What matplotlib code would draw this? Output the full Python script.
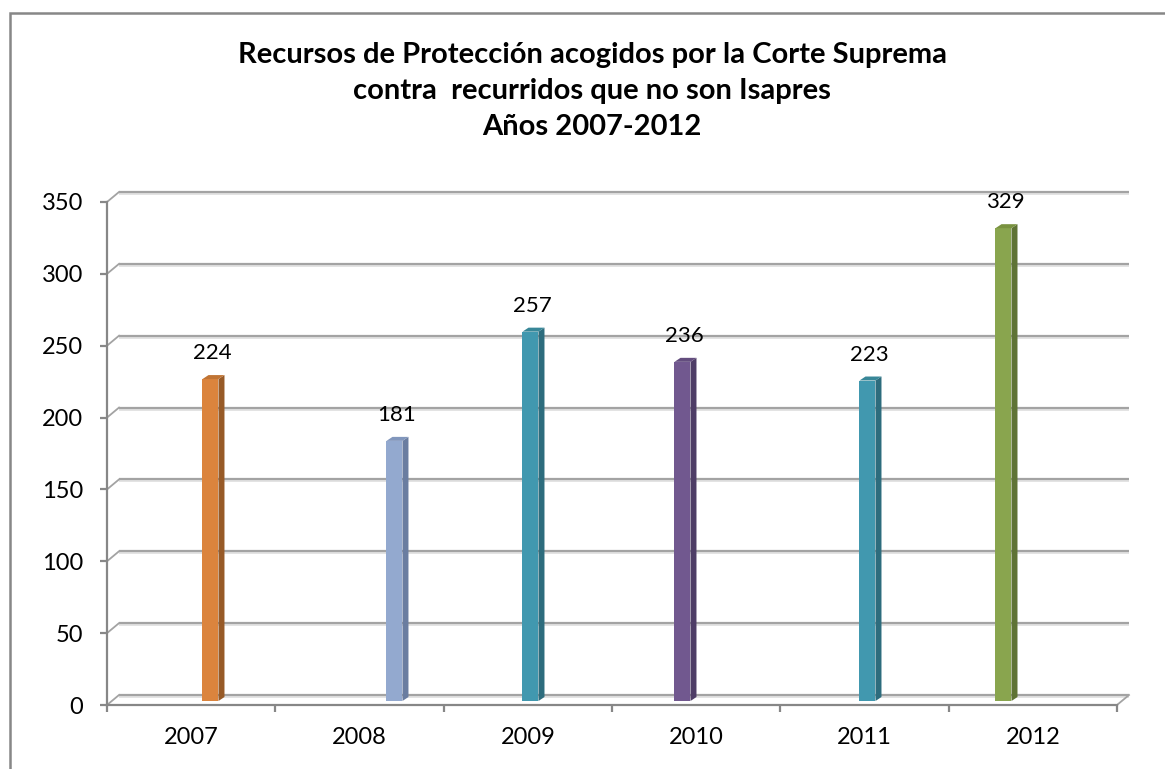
import matplotlib.pyplot as plt
from matplotlib.patches import Polygon, Rectangle

# data
years = ['2007', '2008', '2009', '2010', '2011', '2012']
values = [224, 181, 257, 236, 223, 329]
title_lines = ['Recursos de Protección acogidos por la Corte Suprema',
               'contra  recurridos que no son Isapres',
               'Años 2007-2012']

front_colors = ['#DB843D', '#93A9CF', '#4198AF', '#71588F', '#4198AF', '#89A54E']
side_colors = ['#975A27', '#6A7DA0', '#2D6C7D', '#4E3D66', '#2D6C7D', '#5F7335']
top_colors = ['#C07434', '#8196BC', '#388798', '#634D7E', '#388798', '#79923F']
# where each bar sits inside its category (Excel put them off centre)
bar_shift = [0.085, 0.178, -0.014, -0.111, -0.012, -0.204]

plt.rcParams['font.family'] = ['Lato', 'DejaVu Sans']

W, H = 1165, 769
ax_l, ax_b, ax_w, ax_h = 107, 64, 1010, 503
ymax = 350
n = len(years)

fig = plt.figure(figsize=(W / 100, H / 100), dpi=100)
ax = fig.add_axes([ax_l / W, ax_b / H, ax_w / W, ax_h / H])
ax.set_xlim(0, n)
ax.set_ylim(0, ymax)

# pixel -> data units
ux = n / ax_w
uy = ymax / ax_h

grid_c = '#A3A3A3'
axis_c = '#878787'

# back wall gridlines (with a faint shadow) and the little diagonals
wx, wy = 12 * ux, 10 * uy
yticks = list(range(0, ymax + 1, 50))
for y in yticks:
    ax.plot([wx, n + wx], [y + wy - 2 * uy, y + wy - 2 * uy], color='#DEDEDE',
            lw=1.2, clip_on=False, zorder=1, solid_capstyle='butt')
    ax.plot([wx, n + wx], [y + wy, y + wy], color=grid_c, lw=1.6,
            clip_on=False, zorder=1, solid_capstyle='butt')
    ax.plot([0, wx], [y, y + wy], color=grid_c, lw=1.3, clip_on=False, zorder=1)
ax.plot([n, n + wx], [0, wy], color=grid_c, lw=1.3, clip_on=False, zorder=1)

# bars drawn as a front face, a side and a top
bw = 16 * ux
bx, by = 5 * ux, 4 * uy
sx, sy = 6 * ux, 4 * uy
for i, v in enumerate(values):
    x0 = i + 0.5 + bar_shift[i] - bw / 2 + bx
    y0 = by
    ax.add_patch(Rectangle((x0, y0), bw, v, facecolor=front_colors[i],
                           edgecolor='none', zorder=3, clip_on=False))
    ax.add_patch(Polygon([(x0 + bw, y0), (x0 + bw + sx, y0 + sy),
                          (x0 + bw + sx, y0 + v + sy), (x0 + bw, y0 + v)],
                         closed=True, facecolor=side_colors[i], edgecolor='none',
                         zorder=3, clip_on=False))
    ax.add_patch(Polygon([(x0, y0 + v), (x0 + bw, y0 + v),
                          (x0 + bw + sx, y0 + v + sy), (x0 + sx, y0 + v + sy)],
                         closed=True, facecolor=top_colors[i], edgecolor='none',
                         zorder=3, clip_on=False))
    ax.annotate(str(v), (x0 + bw / 2 + 2 * ux, y0 + v), xytext=(0, 26),
                textcoords='offset pixels', ha='center', va='center',
                fontsize=16, color='black', zorder=5)

# axes
for s in ['top', 'right']:
    ax.spines[s].set_visible(False)
for s in ['left', 'bottom']:
    ax.spines[s].set_color(axis_c)
    ax.spines[s].set_linewidth(1.6)
ax.set_yticks(yticks)
ax.set_yticklabels([str(y) for y in yticks])
ax.set_xticks(range(n + 1))
ax.set_xticklabels([])
ax.set_xticks([i + 0.5 for i in range(n)], minor=True)
ax.set_xticklabels(years, minor=True)
ax.tick_params(axis='y', length=5, width=1.6, color=axis_c, pad=12, labelsize=17)
ax.tick_params(axis='x', which='major', length=5, width=1.6, color=axis_c)
ax.tick_params(axis='x', which='minor', length=0, pad=16, labelsize=17)

# title
for k, line in enumerate(title_lines):
    fig.text(592 / W, 1 - (55 + 36 * k) / H, line, ha='center', va='center',
             fontsize=21, fontweight='bold')

# outer chart border
fig.patches.append(Rectangle((10 / W, -0.05), 1.1, 1.05 - 13 / H,
                             transform=fig.transFigure, fill=False,
                             edgecolor=axis_c, lw=1.8))

fig.savefig('out.png', dpi=100)
